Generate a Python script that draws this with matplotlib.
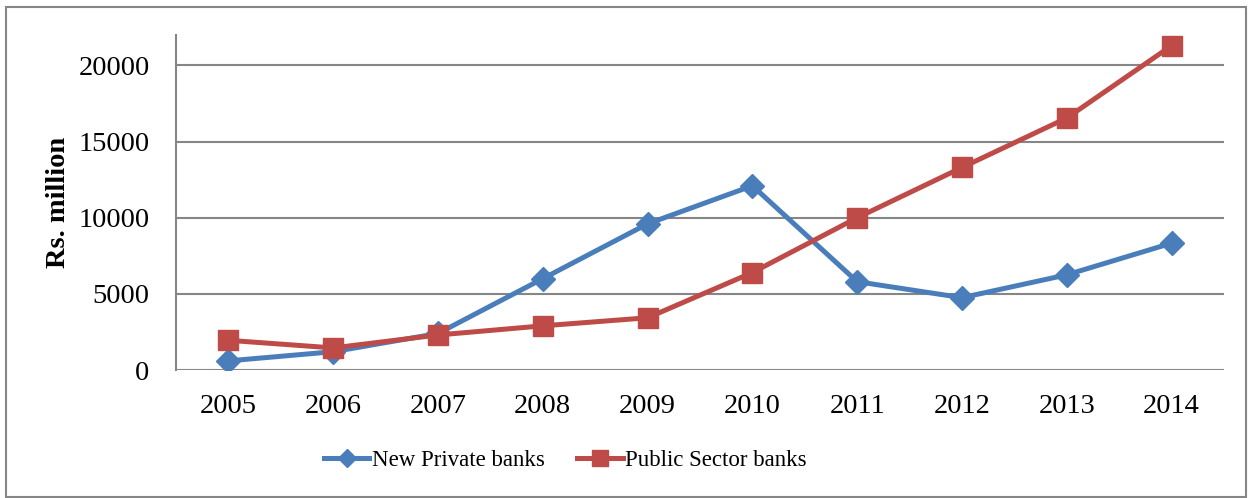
import matplotlib
matplotlib.use("Agg")
import matplotlib.pyplot as plt
from matplotlib.patches import Rectangle

years = ["2005", "2006", "2007", "2008", "2009", "2010", "2011", "2012", "2013", "2014"]
new_private = [600, 1200, 2400, 6000, 9600, 12100, 5800, 4750, 6250, 8330]
public_sector = [1950, 1450, 2300, 2900, 3430, 6400, 10000, 13300, 16550, 21300]
y_ticks = [0, 5000, 10000, 15000, 20000]

BLUE = "#4A7EBB"
RED = "#BE4B48"
GRID = "#868686"

plt.rcParams["font.family"] = ["Liberation Serif", "DejaVu Serif"]

fig = plt.figure(figsize=(12.49, 4.98), dpi=100)
ax = fig.add_axes([176 / 1249, 1 - 370 / 498, (1224 - 176) / 1249, (370 - 35) / 498])

x = list(range(len(years)))
ax.plot(x, new_private, color=BLUE, lw=3.6, marker="D", markersize=12,
        label="New Private banks", zorder=3, solid_joinstyle="round")
ax.plot(x, public_sector, color=RED, lw=3.6, marker="s", markersize=14,
        label="Public Sector banks", zorder=4, solid_joinstyle="round")

ax.set_xlim(-0.5, len(years) - 0.5)
ax.set_ylim(0, 22000)
ax.set_xticks(x)
ax.set_xticklabels(years)
ax.set_yticks(y_ticks)
ax.set_yticklabels([str(v) for v in y_ticks])
ax.tick_params(axis="both", length=0, labelsize=20.5, colors="black")
ax.tick_params(axis="x", pad=17)
ax.tick_params(axis="y", pad=19)

ax.grid(axis="y", color=GRID, lw=1.5, zorder=1)
ax.set_axisbelow(True)
for side in ("top", "right", "bottom"):
    ax.spines[side].set_visible(False)
ax.spines["left"].set_color(GRID)
ax.spines["left"].set_linewidth(1.5)

ax.set_ylabel("Rs. million", fontsize=20.5, fontweight="bold", labelpad=5)

leg = fig.legend(loc="center", bbox_to_anchor=(565 / 1249, 1 - 460 / 498), ncol=2,
                 frameon=False, fontsize=16.5, handlelength=2.0, handletextpad=0.1,
                 columnspacing=1.4, markerscale=0.8)

fig.patches.append(Rectangle((6 / 1249, 1 / 498), 1240 / 1249, 490 / 498,
                             transform=fig.transFigure, fill=False,
                             edgecolor=GRID, lw=1.5))

fig.savefig("out.png", dpi=100, facecolor="white")
